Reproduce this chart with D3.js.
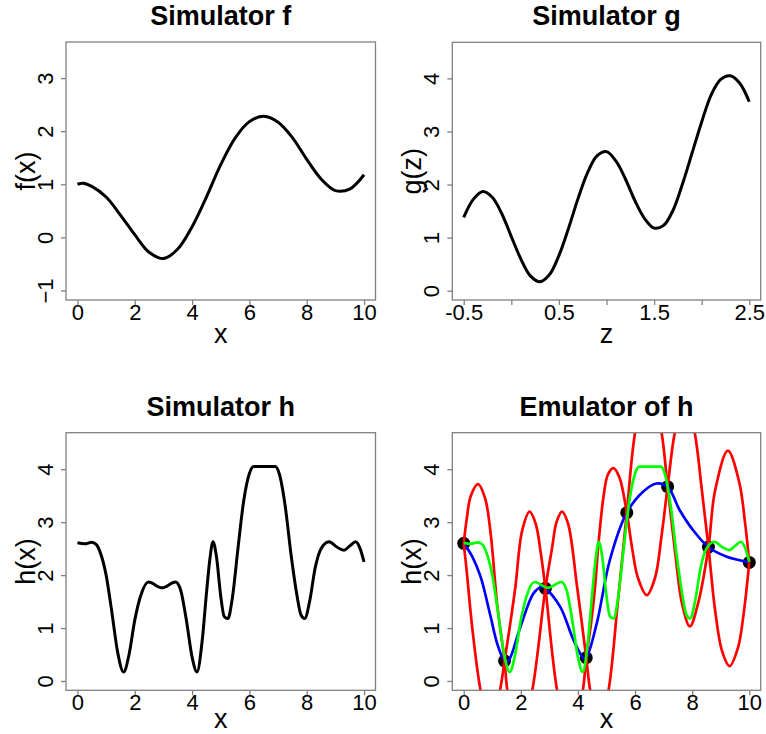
<!DOCTYPE html>
<html><head><meta charset="utf-8">
<script src="https://cdn.jsdelivr.net/npm/d3@7"></script>
<style>body{margin:0;background:#fff}svg{display:block}</style>
</head><body>
<svg id="c" width="766" height="734"></svg>
<script>
// ---------- data ----------
const fX = [0,0.2,0.5,1,1.5,2,2.5,3,3.5,4,4.5,5,5.5,6,6.5,7,7.5,8,8.5,9,9.5,10];
const fY = [1.0,1.02,0.96,0.76,0.42,0.05,-0.28,-0.40,-0.22,0.2,0.76,1.37,1.87,2.18,2.28,2.17,1.88,1.47,1.10,0.88,0.91,1.18];

const gZ = [-0.5,-0.4,-0.3,-0.2,-0.1,0,0.1,0.2,0.3,0.4,0.5,0.6,0.7,0.8,0.9,1.0,1.1,1.2,1.3,1.4,1.5,1.6,1.7,1.8,1.9,2.0,2.1,2.2,2.3,2.4,2.5];
const gY = [1.38,1.72,1.87,1.76,1.45,1.02,0.6,0.28,0.17,0.30,0.66,1.17,1.73,2.22,2.54,2.62,2.44,2.10,1.69,1.36,1.18,1.23,1.52,2.02,2.60,3.18,3.69,3.98,4.05,3.91,3.56];

const hX = [0,0.25,0.5,0.65,0.8,1.0,1.2,1.4,1.61,1.8,2.0,2.2,2.48,2.95,3.42,3.6,3.8,4.0,4.17,4.35,4.5,4.62,4.73,4.85,5.0,5.12,5.25,5.4,5.6,5.8,6.0,6.15,6.5,6.9,7.05,7.25,7.45,7.65,7.8,7.93,8.1,8.3,8.5,8.78,9.05,9.3,9.5,9.71,9.85,10];
const hY = [2.61,2.59,2.62,2.58,2.42,2.0,1.3,0.55,0.17,0.5,1.15,1.6,1.87,1.76,1.87,1.72,1.15,0.45,0.17,0.75,1.65,2.3,2.63,2.35,1.6,1.22,1.18,1.55,2.5,3.4,3.92,4.05,4.05,4.05,3.9,3.3,2.4,1.65,1.25,1.18,1.5,2.15,2.5,2.63,2.53,2.47,2.55,2.63,2.52,2.25];

const designX = [0,1.43,2.86,4.29,5.71,7.14,8.57,10];
const designY = [2.6,0.38,1.75,0.44,3.18,3.67,2.53,2.24];

const meanX = [0,0.3,0.59,0.94,1.17,1.43,1.55,1.99,2.45,2.75,2.86,3.38,3.84,4.2,4.29,4.66,5.12,5.71,6.29,6.75,7.14,7.56,8.03,8.57,9.19,10];
const meanY = [2.6,2.35,1.97,1.22,0.71,0.38,0.37,1.03,1.66,1.78,1.75,1.40,0.78,0.43,0.44,1.09,2.29,3.18,3.58,3.73,3.67,3.23,2.85,2.53,2.35,2.24];

const redAX = [0,0.1,0.25,0.5,0.75,0.95,1.17,1.43,1.53,1.95,2.40,2.86,3.09,3.25,3.44,3.65,3.97,4.29,4.43,4.75,5.07,5.39,5.71,6.0,6.47,6.93,7.14,7.4,7.65,7.92,8.2,8.57,8.8,9.25,9.65,9.85,10];
const redAY = [2.6,3.04,3.5,3.72,3.45,2.75,1.45,0.38,-0.18,-1.2,-0.18,1.75,2.5,3.0,3.2,2.98,1.78,0.44,-0.18,-0.9,-0.18,1.45,3.18,4.69,5.85,4.69,3.67,2.45,1.45,1.03,1.45,2.53,3.59,4.35,3.75,3.0,2.24];

const redBX = [0,0.1,0.3,0.59,0.93,1.27,1.43,1.62,1.81,2.05,2.31,2.52,2.69,2.86,3.27,3.72,4.17,4.29,4.45,4.6,4.72,4.9,5.05,5.24,5.45,5.71,5.9,6.1,6.41,6.7,6.93,7.14,7.39,7.74,8.09,8.33,8.57,8.8,9.05,9.31,9.6,9.8,10];
const redBY = [2.6,2.1,1.0,-0.18,-0.95,-0.18,0.38,1.05,1.78,2.85,3.2,2.97,2.45,1.75,-0.18,-1.25,-0.18,0.44,1.05,1.78,2.6,3.5,3.9,4.02,3.85,3.18,2.5,1.95,1.62,1.95,2.75,3.67,4.69,5.45,4.69,3.65,2.53,1.35,0.56,0.28,0.62,1.26,2.24];

const xTicks10 = [0,2,4,6,8,10];
const yTicksF = [-1,0,1,2,3];
const yTicks04 = [0,1,2,3,4];
const zTicks = [-0.5,0,0.5,1,1.5,2,2.5];
const zTickLabels = ["-0.5","","0.5","","1.5","","2.5"];

// ---------- drawing ----------
const svg = d3.select("#c");
const FONT = "'Liberation Sans', Arial, Helvetica, sans-serif";
const zip = (xs, ys) => xs.map((x,i)=>[x, ys[i]]);

function panel(o, idx){
  const x = d3.scaleLinear().domain(o.xDom).range([o.l, o.r]);
  const y = d3.scaleLinear().domain(o.yDom).range([o.b, o.t]);
  const g = svg.append("g");
  const cid = "clip"+idx;
  svg.append("clipPath").attr("id", cid).append("rect")
    .attr("x", o.l).attr("y", o.t).attr("width", o.r-o.l).attr("height", o.b-o.t);
  const plot = g.append("g").attr("clip-path", `url(#${cid})`);

  o.series.forEach(s=>{
    if (s.type === "points"){
      plot.selectAll(null).data(s.data).enter().append("circle")
        .attr("cx", d=>x(d[0])).attr("cy", d=>y(d[1])).attr("r", 6.5).attr("fill", "#000");
    } else {
      const line = d3.line().x(d=>x(d[0])).y(d=>y(d[1])).curve(s.curve || d3.curveCatmullRom.alpha(0.5));
      plot.append("path").attr("d", line(s.data)).attr("fill","none")
        .attr("stroke", s.color).attr("stroke-width", s.w || 2.7).attr("stroke-linejoin","round");
    }
  });

  // box
  g.append("rect").attr("x", o.l).attr("y", o.t).attr("width", o.r-o.l).attr("height", o.b-o.t)
    .attr("fill","none").attr("stroke","#808080").attr("stroke-width",1.3);

  // x axis
  const xa = d3.axisBottom(x).tickValues(o.xTicks).tickSize(5).tickSizeOuter(0)
    .tickFormat((d,i)=> o.xLabels ? o.xLabels[i] : d3.format("")(d));
  const gx = g.append("g").attr("transform", `translate(0,${o.b})`).call(xa);
  gx.select(".domain").remove();
  gx.selectAll(".tick line").attr("stroke","#808080").attr("stroke-width",1.3);
  gx.selectAll(".tick text").attr("y", 20).attr("dy", null)
    .attr("font-size", 22).attr("font-family", FONT).attr("fill", "#000");

  // y axis
  const ya = d3.axisLeft(y).tickValues(o.yTicks).tickSize(5).tickSizeOuter(0).tickFormat(d3.format(""));
  const gy = g.append("g").attr("transform", `translate(${o.l},0)`).call(ya);
  gy.select(".domain").remove();
  gy.selectAll(".tick line").attr("stroke","#808080").attr("stroke-width",1.3);
  gy.selectAll(".tick text").attr("x", null).attr("dy", null).attr("text-anchor","middle")
    .attr("transform", "translate(-13,0) rotate(-90)")
    .attr("font-size", 22).attr("font-family", FONT).attr("fill", "#000");

  // title
  g.append("text").attr("x", (o.l+o.r)/2).attr("y", o.t-17).attr("text-anchor","middle")
    .attr("font-size", 27).attr("font-weight","bold").attr("font-family", FONT).text(o.title);
  // x label
  g.append("text").attr("x", (o.l+o.r)/2).attr("y", o.b+o.xlabOff).attr("text-anchor","middle")
    .attr("font-size", 27).attr("font-family", FONT).text(o.xlab);
  // y label
  g.append("text").attr("transform", `translate(${o.l-31},${(o.t+o.b)/2}) rotate(-90)`)
    .attr("text-anchor","middle").attr("font-size", 27).attr("font-family", FONT).text(o.ylab);
}

const panels = [
  {l:66, r:375.5, t:42, b:300, xDom:[-0.4,10.4], yDom:[-1.18,3.68], xTicks:xTicks10, yTicks:yTicksF,
   title:"Simulator f", xlab:"x", xlabOff:42.5, ylab:"f(x)",
   series:[{data:zip(fX,fY), color:"#000", w:3}]},
  {l:452.3, r:760.7, t:42.3, b:300, xDom:[-0.62,2.62], yDom:[-0.175,4.68], xTicks:zTicks, xLabels:zTickLabels, yTicks:yTicks04,
   title:"Simulator g", xlab:"z", xlabOff:42.5, ylab:"g(z)",
   series:[{data:zip(gZ,gY), color:"#000", w:3}]},
  {l:66, r:375.5, t:432.7, b:690.3, xDom:[-0.4,10.4], yDom:[-0.176,4.69], xTicks:xTicks10, yTicks:yTicks04,
   title:"Simulator h", xlab:"x", xlabOff:37.5, ylab:"h(x)",
   series:[{data:zip(hX,hY), color:"#000", w:3, curve:d3.curveMonotoneX}]},
  {l:452.3, r:760.7, t:432.7, b:690.3, xDom:[-0.4,10.4], yDom:[-0.176,4.69], xTicks:xTicks10, yTicks:yTicks04,
   title:"Emulator of h", xlab:"x", xlabOff:37.5, ylab:"h(x)",
   series:[
     {type:"points", data:zip(designX,designY)},
     {data:zip(meanX,meanY), color:"#0000FF"},
     {data:zip(redAX,redAY), color:"#FF0000"},
     {data:zip(redBX,redBY), color:"#FF0000"},
     {data:zip(hX,hY), color:"#00FF00", curve:d3.curveMonotoneX}
   ]}
];
panels.forEach(panel);
</script>
</body></html>
